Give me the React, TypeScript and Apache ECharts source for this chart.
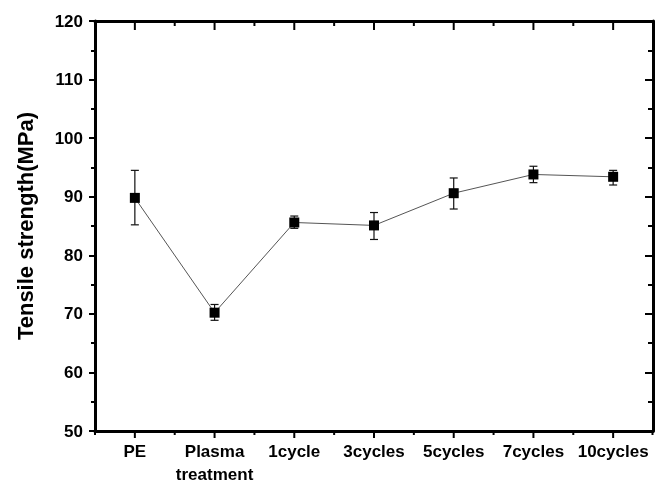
import React, { useEffect, useRef } from "react";
import * as echarts from "echarts";

const categories = ["PE", "Plasma\ntreatment", "1cycle", "3cycles", "5cycles", "7cycles", "10cycles"];
const strength = [89.8, 70.2, 85.6, 85.1, 90.6, 93.8, 93.4];
const errLow = [85.2, 68.9, 84.6, 82.7, 87.9, 92.4, 92.0];
const errHigh = [94.5, 71.6, 86.7, 87.3, 93.2, 95.2, 94.5];
const yTicks = { min: 50, max: 120, interval: 10 };

const FONT = "'Liberation Sans', Arial, sans-serif";

export default function App() {
  const ref = useRef<HTMLDivElement>(null);
  useEffect(() => {
    if (!ref.current) return;
    const chart = echarts.init(ref.current, undefined, { renderer: "svg" });
    const black = "#000";
    const errData = categories.map((_, i) => [i, errLow[i], errHigh[i]]);
    const tickData = categories.map((_, i) => [i, yTicks.min]);
    chart.setOption({
      animation: false,
      grid: { left: 95, right: 2, top: 21, bottom: 54, containLabel: false, outerBoundsMode: "none" },
      xAxis: [
        {
          type: "category",
          position: "bottom",
          data: categories,
          boundaryGap: true,
          axisLine: { show: true, onZero: false, lineStyle: { color: black, width: 3 } },
          axisTick: { show: false },
          axisLabel: { show: true, color: black, fontFamily: FONT, fontWeight: "bold", fontSize: 17, lineHeight: 23, margin: 9, interval: 0 },
          splitLine: { show: false },
        },
        {
          type: "category",
          position: "top",
          data: categories,
          boundaryGap: true,
          axisLine: { show: true, onZero: false, lineStyle: { color: black, width: 3 } },
          axisTick: { show: false },
          axisLabel: { show: false },
          splitLine: { show: false },
        },
      ],
      yAxis: [
        {
          type: "value",
          position: "left",
          min: yTicks.min,
          max: yTicks.max,
          interval: yTicks.interval,
          name: "Tensile strength(MPa)",
          nameLocation: "middle",
          nameGap: 59,
          nameTextStyle: { color: black, fontFamily: FONT, fontWeight: "bold", fontSize: 22 },
          axisLine: { show: true, onZero: false, lineStyle: { color: black, width: 3 } },
          axisTick: { show: true, length: 6, lineStyle: { color: black, width: 2 } },
          minorTick: { show: true, splitNumber: 2, length: 4, lineStyle: { color: black, width: 2 } },
          axisLabel: { color: black, fontFamily: FONT, fontWeight: "bold", fontSize: 17, margin: 12 },
          splitLine: { show: false },
          minorSplitLine: { show: false },
        },
        {
          type: "value",
          position: "right",
          min: yTicks.min,
          max: yTicks.max,
          interval: yTicks.interval,
          axisLine: { show: true, onZero: false, lineStyle: { color: black, width: 3 } },
          axisTick: { show: true, inside: true, length: 8, lineStyle: { color: black, width: 2 } },
          minorTick: { show: true, splitNumber: 2, length: 5, lineStyle: { color: black, width: 2 } },
          axisLabel: { show: false },
          splitLine: { show: false },
          minorSplitLine: { show: false },
        },
      ],
      series: [
        {
          // x-axis ticks (major at categories, minor at boundaries), top and bottom
          type: "custom",
          xAxisIndex: 0,
          yAxisIndex: 0,
          z: 4,
          silent: true,
          clip: false,
          data: tickData,
          encode: { x: 0, y: 1 },
          renderItem: (params: any, api: any) => {
            const i = api.value(0);
            const cs = params.coordSys;
            const c = api.coord([i, yTicks.min]);
            const bw = api.size([1, 0])[0];
            const bottom = cs.y + cs.height;
            const top = cs.y;
            const style = { stroke: black, lineWidth: 2 };
            const children: any[] = [
              { type: "line", shape: { x1: c[0], y1: bottom, x2: c[0], y2: bottom + 7 }, style },
              { type: "line", shape: { x1: c[0], y1: top, x2: c[0], y2: top + 9 }, style },
            ];
            const mx = c[0] + bw / 2;
            if (mx < cs.x + cs.width - 2) {
              children.push({ type: "line", shape: { x1: mx, y1: bottom, x2: mx, y2: bottom + 4 }, style });
              children.push({ type: "line", shape: { x1: mx, y1: top, x2: mx, y2: top + 5 }, style });
            } else {
              children.push({ type: "line", shape: { x1: mx - 0.5, y1: bottom, x2: mx - 0.5, y2: bottom + 4 }, style });
            }
            if (i === 0) {
              const lx = c[0] - bw / 2;
              children.push({ type: "line", shape: { x1: lx, y1: bottom, x2: lx, y2: bottom + 4 }, style });
            }
            return { type: "group", children };
          },
        },
        {
          type: "custom",
          xAxisIndex: 0,
          yAxisIndex: 0,
          z: 1,
          data: errData,
          encode: { x: 0, y: [1, 2] },
          renderItem: (params: any, api: any) => {
            const x = api.value(0);
            const lo = api.coord([x, api.value(1)]);
            const hi = api.coord([x, api.value(2)]);
            const hw = 4;
            const style = { stroke: "#111", lineWidth: 1.2, fill: "none" };
            return {
              type: "group",
              children: [
                { type: "line", shape: { x1: lo[0], y1: lo[1], x2: hi[0], y2: hi[1] }, style },
                { type: "line", shape: { x1: hi[0] - hw, y1: hi[1], x2: hi[0] + hw, y2: hi[1] }, style },
                { type: "line", shape: { x1: lo[0] - hw, y1: lo[1], x2: lo[0] + hw, y2: lo[1] }, style },
              ],
            };
          },
        },
        {
          type: "line",
          xAxisIndex: 0,
          yAxisIndex: 0,
          z: 3,
          data: strength,
          symbol: "rect",
          symbolSize: 10,
          itemStyle: { color: "#000" },
          lineStyle: { color: "#555", width: 1 },
        },
      ],
    });
    return () => chart.dispose();
  }, []);
  return <div ref={ref} style={{ position: "fixed", left: 0, top: 0, width: 655, height: 485 }} />;
}
